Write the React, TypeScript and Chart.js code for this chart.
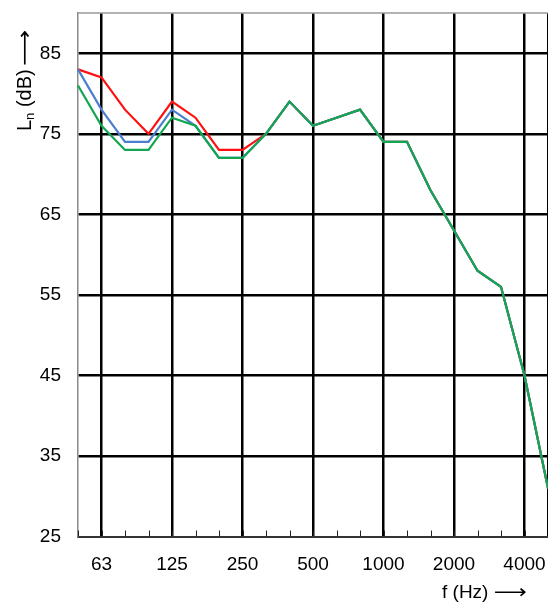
import React, { useEffect, useRef } from "react";
import { Chart, registerables } from "chart.js";

Chart.register(...registerables);

const bands = ["50", "63", "80", "100", "125", "160", "200", "250", "315", "400", "500", "630", "800", "1000", "1250", "1600", "2000", "2500", "3150", "4000", "5000"];
const octaveLabels = ["63", "125", "250", "500", "1000", "2000", "4000"];
const redValues = [83, 82, 78, 75, 79, 77, 73, 73, 75, 79, 76, 77, 78, 74, 74, 68, 63, 58, 56, 45, 31];
const blueValues = [83, 78, 74, 74, 78, 76, 72, 72, 75, 79, 76, 77, 78, 74, 74, 68, 63, 58, 56, 45, 31];
const greenValues = [81, 76, 73, 73, 77, 76, 72, 72, 75, 79, 76, 77, 78, 74, 74, 68, 63, 58, 56, 45, 31];
const yTicks = [25, 35, 45, 55, 65, 75, 85];
const yMin = 25;
const yMax = 90;

const FONT = "'Liberation Sans', Arial, 'DejaVu Sans', sans-serif";
const ARROW = "\u27F6";

function drawArrow(ctx: CanvasRenderingContext2D, x: number, y: number, len: number) {
  const w = ctx.measureText(ARROW).width;
  ctx.save();
  ctx.translate(x, y);
  ctx.scale(len / w, 1);
  ctx.fillText(ARROW, 0, 0);
  ctx.restore();
}

const decorPlugin = {
  id: "decor",
  afterDraw(chart: any) {
    const { ctx, chartArea, scales } = chart;
    const xs = scales.x;
    ctx.save();
    ctx.strokeStyle = "#9a9a9a";
    ctx.lineWidth = 1.5;
    ctx.beginPath();
    ctx.moveTo(chartArea.left, chartArea.top);
    ctx.lineTo(chartArea.right, chartArea.top);
    ctx.stroke();
    ctx.strokeStyle = "#222";
    ctx.lineWidth = 1;
    bands.forEach((_, i) => {
      const px = Math.round(xs.getPixelForValue(i)) + 0.5;
      ctx.beginPath();
      ctx.moveTo(px, chartArea.bottom);
      ctx.lineTo(px, chartArea.bottom - 6);
      ctx.stroke();
    });
    // x title
    ctx.fillStyle = "#000";
    ctx.font = `19px ${FONT}`;
    ctx.textAlign = "left";
    ctx.textBaseline = "middle";
    const xt = "f (Hz) ";
    ctx.fillText(xt, 442, 593);
    drawArrow(ctx, 442 + ctx.measureText(xt).width, 593, 33);
    // y title
    ctx.translate(25, 131);
    ctx.rotate(-Math.PI / 2);
    ctx.font = `20px ${FONT}`;
    ctx.textBaseline = "middle";
    ctx.fillText("L", 0, 0);
    const wL = ctx.measureText("L").width;
    ctx.font = `13px ${FONT}`;
    ctx.fillText("n", wL, 5);
    const wn = ctx.measureText("n").width;
    ctx.font = `20px ${FONT}`;
    const yt = " (dB) ";
    ctx.fillText(yt, wL + wn, 0);
    const wy = ctx.measureText(yt).width;
    drawArrow(ctx, wL + wn + wy - 2, 0, 36);
    ctx.restore();
  },
};

function zeroPad(scale: any) {
  scale.paddingTop = 0;
  scale.paddingBottom = 0;
  scale.paddingLeft = 0;
  scale.paddingRight = 0;
}

export default function App() {
  const canvasRef = useRef<HTMLCanvasElement>(null);

  useEffect(() => {
    if (!canvasRef.current) return;
    const octIdx = new Set(octaveLabels.map((l) => bands.indexOf(l)));
    const chart = new Chart(canvasRef.current, {
      type: "line",
      data: {
        labels: bands,
        datasets: [
          { label: "green", data: greenValues, borderColor: "#12a650", borderWidth: 2.2, pointRadius: 0, tension: 0, fill: false },
          { label: "blue", data: blueValues, borderColor: "#4a7fd0", borderWidth: 2.2, pointRadius: 0, tension: 0, fill: false },
          { label: "red", data: redValues, borderColor: "#ff1010", borderWidth: 2.2, pointRadius: 0, tension: 0, fill: false },
        ],
      },
      options: {
        animation: false,
        responsive: false,
        maintainAspectRatio: false,
        layout: { padding: { top: 13, left: 0, right: 0, bottom: 0 } },
        plugins: { legend: { display: false }, tooltip: { enabled: false }, title: { display: false } },
        scales: {
          x: {
            type: "category",
            offset: false,
            afterFit(scale: any) {
              scale.height = 65.5;
              zeroPad(scale);
            },
            grid: {
              drawTicks: false,
              lineWidth: 2.5,
              color: (c: any) => (octIdx.has(c.index) || c.index === bands.length - 1 ? "#000" : "rgba(0,0,0,0)"),
            },
            border: { display: true, color: "#333", width: 2 },
            ticks: {
              autoSkip: false,
              maxRotation: 0,
              padding: 17,
              color: "#000",
              font: { family: FONT, size: 19 },
              callback: (_v: any, i: number) => (octIdx.has(i) ? bands[i] : ""),
            },
          },
          y: {
            type: "linear",
            min: yMin,
            max: yMax,
            afterBuildTicks(scale: any) {
              scale.ticks = yTicks.map((v) => ({ value: v }));
            },
            afterFit(scale: any) {
              scale.width = 78;
              zeroPad(scale);
            },
            grid: {
              drawTicks: false,
              lineWidth: 2.5,
              color: (c: any) => (c.tick && c.tick.value === yMin ? "rgba(0,0,0,0)" : "#000"),
            },
            border: { display: true, color: "#8a8a8a", width: 1.5 },
            ticks: {
              padding: 17,
              color: "#000",
              font: { family: FONT, size: 19 },
            },
          },
        },
      },
      plugins: [decorPlugin],
    });
    return () => chart.destroy();
  }, []);

  return (
    <div style={{ position: "absolute", left: 0, top: 0, width: 548, height: 602, background: "#fff" }}>
      <canvas ref={canvasRef} width={548} height={602} style={{ width: 548, height: 602 }} />
    </div>
  );
}
